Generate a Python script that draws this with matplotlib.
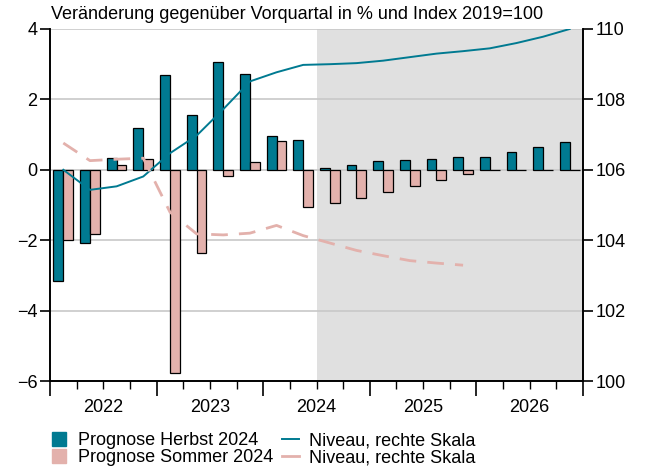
import matplotlib.pyplot as plt
from matplotlib.lines import Line2D
import numpy as np

plt.rcParams['font.family'] = ['Liberation Sans', 'DejaVu Sans']

years = ["2022", "2023", "2024", "2025", "2026"]

# quarterly change in %, 2022Q1 .. 2026Q4
herbst = [-3.17, -2.08, 0.33, 1.18, 2.70, 1.57, 3.07, 2.72, 0.97, 0.85,
          0.04, 0.14, 0.26, 0.28, 0.31, 0.35, 0.37, 0.51, 0.66, 0.80]
sommer = [-2.00, -1.82, 0.14, 0.30, -5.78, -2.35, -0.19, 0.22, 0.83, -1.06,
          -0.93, -0.80, -0.64, -0.45, -0.30, -0.12, 0.0, 0.0, 0.0, 0.0]

# level, index 2019=100 (right axis)
niveau_herbst = [106.0, 105.43, 105.53, 105.81, 106.47, 106.97, 107.72, 108.51, 108.77, 108.98,
                 109.0, 109.03, 109.1, 109.2, 109.3, 109.37, 109.45, 109.6, 109.78, 110.0]
niveau_sommer = [106.76, 106.26, 106.3, 106.33, 104.8, 104.18, 104.15, 104.2, 104.42, 104.13,
                 103.92, 103.71, 103.56, 103.42, 103.35, 103.29]

teal = "#007a91"
pink = "#e3b1ac"
fs = 13

fig = plt.figure(figsize=(6.46, 4.66), dpi=100)
ax = fig.add_axes([0.0774, 0.1824, 0.8251, 0.7554])
ax2 = ax.twinx()

x = np.arange(len(herbst)) + 0.5
w = 0.37

ax.axvspan(10, 20, color="#e0e0e0", zorder=0, lw=0)
for yv in [-4, -2, 0, 2, 4]:
    ax.axhline(yv, color="#c8c8c8", lw=1.2, zorder=1)

ax.bar(x - w / 2, herbst, w, color=teal, edgecolor="black", lw=0.9, zorder=3)
ax.bar(x + w / 2, sommer, w, color=pink, edgecolor="black", lw=0.9, zorder=3)

ax2.plot(x, niveau_herbst, color=teal, lw=1.4, zorder=4)
ax2.plot(x[:len(niveau_sommer)], niveau_sommer, color=pink, lw=2, dashes=(6, 4), zorder=4)

ax.set_xlim(0, 20)
ax.set_ylim(-6, 4)
ax2.set_ylim(100, 110)
ax.set_yticks([-6, -4, -2, 0, 2, 4])
ax.set_yticklabels(["\u22126", "\u22124", "\u22122", "0", "2", "4"])
ax2.set_yticks([100, 102, 104, 106, 108, 110])

ax.set_xticks(np.arange(0, 21, 4))
ax.set_xticks(np.arange(0, 21, 1), minor=True)
ax.set_xticklabels([])
ax.tick_params(axis="x", which="major", length=11, width=1.2, direction="out")
ax.tick_params(axis="x", which="minor", length=6, width=1, direction="out")
for i, yr in enumerate(years):
    ax.text(4 * i + 2, -6.5, yr, ha="center", va="top", fontsize=fs)

ax.tick_params(axis="y", length=7, width=1.2, labelsize=fs, pad=2)
ax2.tick_params(axis="y", length=7, width=1.2, labelsize=fs, pad=2)

for a in (ax, ax2):
    a.spines["top"].set_visible(False)
    a.spines["left"].set_linewidth(1.2)
    a.spines["right"].set_linewidth(1.2)
    a.spines["bottom"].set_linewidth(1.2)
ax.set_zorder(ax2.get_zorder() - 1)
ax2.patch.set_visible(False)
ax.patch.set_visible(True)

fig.text(0.079, 0.968, "Ver\u00e4nderung gegen\u00fcber Vorquartal in % und Index 2019=100",
         fontsize=fs, ha="left", va="center")

handles = [
    Line2D([], [], marker="s", ls="none", color=teal, markersize=10),
    Line2D([], [], marker="s", ls="none", color=pink, markersize=10),
    Line2D([], [], color=teal, lw=1.4),
    Line2D([], [], color=pink, lw=2),
]
labels = ["Prognose Herbst 2024", "Prognose Sommer 2024",
          "Niveau, rechte Skala", "Niveau, rechte Skala"]
fig.legend(handles, labels, ncol=2, loc="upper left", bbox_to_anchor=(0.065, 0.092),
           frameon=False, fontsize=fs, handlelength=0.9, handletextpad=0.6,
           columnspacing=0.5, labelspacing=0.0, borderpad=0)

fig.savefig("out.png", dpi=100)
